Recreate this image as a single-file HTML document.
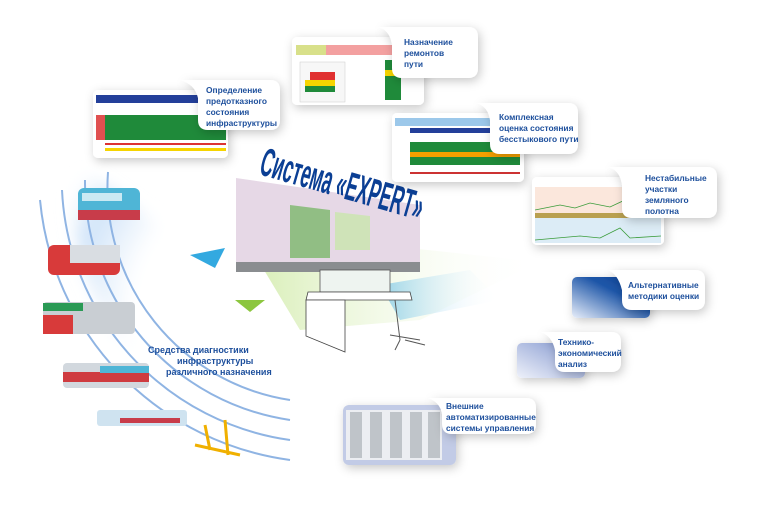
<!DOCTYPE html>
<html><head><meta charset="utf-8"><style>
body{margin:0;width:760px;height:506px;background:#fff;overflow:hidden;font-family:"Liberation Sans",sans-serif}
</style></head><body>
<svg width="760" height="506" viewBox="0 0 760 506" xmlns="http://www.w3.org/2000/svg" font-family="Liberation Sans, sans-serif">
<defs>
<radialGradient id="halo" cx="280" cy="320" r="250" gradientUnits="userSpaceOnUse">
<stop offset="0.6" stop-color="#fff"/><stop offset="0.85" stop-color="#cfe3f8"/><stop offset="1" stop-color="#fff" stop-opacity="0"/></radialGradient>
<linearGradient id="bl" x1="0" y1="1" x2="1" y2="0"><stop offset="0" stop-color="#e8eefa"/><stop offset="0.6" stop-color="#1e56a8"/><stop offset="1" stop-color="#0b3f94"/></linearGradient>
<linearGradient id="bl2" x1="0" y1="1" x2="1" y2="0"><stop offset="0" stop-color="#eef1fa"/><stop offset="1" stop-color="#7d92cc"/></linearGradient>
<linearGradient id="ray" x1="0" y1="0" x2="1" y2="0"><stop offset="0" stop-color="#b8e07a"/><stop offset="1" stop-color="#fff" stop-opacity="0"/></linearGradient>
<linearGradient id="ray2" x1="0" y1="0" x2="1" y2="0"><stop offset="0" stop-color="#59b8e6"/><stop offset="1" stop-color="#fff" stop-opacity="0"/></linearGradient>
<filter id="sh" x="-30%" y="-30%" width="160%" height="160%"><feDropShadow dx="2" dy="3" stdDeviation="5" flood-color="#000" flood-opacity="0.22"/></filter>
<filter id="bl5"><feGaussianBlur stdDeviation="8"/></filter>
</defs>
<path d="M70,160 A290,290 0 0 0 300,460 L300,330 Z" fill="url(#halo)" filter="url(#bl5)"/>
<g fill="none" stroke="#8fb4e3" stroke-width="2">
<path d="M40,200 A290,290 0 0 0 290,460"/>
<path d="M62,190 A265,265 0 0 0 290,440"/>
<path d="M85,180 A240,240 0 0 0 290,420"/>
<path d="M108,172 A215,215 0 0 0 290,400"/>
</g>
<g>
<rect x="78" y="188" width="62" height="32" rx="6" fill="#4fb5d6"/><rect x="78" y="210" width="62" height="10" fill="#c83c4a"/><rect x="82" y="193" width="40" height="8" fill="#fff" opacity=".7"/>
<rect x="48" y="245" width="72" height="30" rx="6" fill="#d83a3a"/><rect x="70" y="245" width="50" height="18" fill="#d9dde2"/>
<rect x="43" y="302" width="92" height="32" rx="4" fill="#c9ced3"/><rect x="43" y="315" width="30" height="19" fill="#d83a3a"/><rect x="43" y="303" width="40" height="8" fill="#2a9a55"/>
<rect x="63" y="363" width="86" height="25" rx="4" fill="#d2d8de"/><rect x="63" y="372" width="86" height="10" fill="#cf3b40"/><rect x="100" y="366" width="49" height="7" fill="#4fb5d6"/>
<rect x="97" y="410" width="90" height="16" rx="3" fill="#cfe3f0"/><rect x="120" y="418" width="60" height="5" fill="#c83c4a"/>
<path d="M195,445 L240,455 M205,425 L210,450 M225,420 L228,455" stroke="#f0b000" stroke-width="3"/>
</g>
<text font-size="9" font-weight="bold" fill="#1d4f9c"><tspan x="148" y="353">Средства диагностики</tspan><tspan x="177" y="364">инфраструктуры</tspan><tspan x="166" y="375">различного назначения</tspan></text>
<polygon points="240,230 540,262 420,320 300,330" fill="url(#ray)" opacity=".6"/>
<polygon points="380,285 470,270 500,300 400,320" fill="url(#ray2)" opacity=".6"/>
<polygon points="190,255 225,248 215,268" fill="#33a9e0"/>
<polygon points="235,300 265,300 250,312" fill="#8cc63f"/>
<polygon points="236,178 420,205 420,262 236,262" fill="#e6d8e6"/>
<polygon points="290,205 330,210 330,258 290,258" fill="#6cb35a" opacity=".7"/>
<polygon points="335,212 370,216 370,250 335,250" fill="#cfe3b8"/>
<rect x="236" y="262" width="184" height="10" fill="#8a8d90"/>
<rect x="320" y="270" width="70" height="22" fill="#eef4f0" stroke="#555" stroke-width="0.8"/>
<polygon points="308,292 410,292 412,300 306,300" fill="#fff" stroke="#444" stroke-width="0.8"/>
<polygon points="306,300 345,300 345,352 306,336" fill="#fff" stroke="#444" stroke-width="0.8"/>
<path d="M395,300 L400,340 M390,335 L420,340 M400,340 L395,350 M405,340 L425,345" stroke="#555" fill="none"/>
<text x="258" y="174" font-size="40" font-weight="bold" fill="#0b3f94" transform="rotate(16 258 174)" textLength="168" lengthAdjust="spacingAndGlyphs">Система «EXPERT»</text>
<g filter="url(#sh)">
<rect x="93" y="90" width="135" height="68" rx="5" fill="#fff"/>
<rect x="292" y="37" width="132" height="68" rx="5" fill="#fff"/>
<rect x="392" y="113" width="132" height="69" rx="5" fill="#fff"/>
<rect x="532" y="177" width="132" height="68" rx="5" fill="#fff"/>
<rect x="572" y="277" width="78" height="41" rx="5" fill="url(#bl)"/>
<rect x="517" y="343" width="68" height="35" rx="5" fill="url(#bl2)"/>
<rect x="343" y="405" width="113" height="60" rx="6" fill="#c2cbe6"/>
</g>
<rect x="96" y="95" width="130" height="8" fill="#233f9a"/><rect x="105" y="115" width="121" height="25" fill="#1f8a3a"/><rect x="96" y="115" width="9" height="25" fill="#e05050"/><rect x="105" y="143" width="121" height="2" fill="#d33"/><rect x="105" y="148" width="121" height="3" fill="#f5d400"/>
<rect x="296" y="45" width="125" height="10" fill="#f3a0a0"/><rect x="296" y="45" width="30" height="10" fill="#d8e08a"/><rect x="300" y="62" width="45" height="40" fill="#f7f7f7" stroke="#ccc" stroke-width=".5"/><rect x="310" y="72" width="25" height="8" fill="#e03030"/><rect x="305" y="80" width="30" height="6" fill="#f5d400"/><rect x="305" y="86" width="30" height="6" fill="#1f8a3a"/><rect x="385" y="60" width="16" height="40" fill="#1f8a3a"/><rect x="385" y="70" width="16" height="6" fill="#f5d400"/>
<rect x="395" y="118" width="126" height="8" fill="#9cc8ea"/><rect x="410" y="128" width="110" height="5" fill="#233f9a"/><rect x="410" y="142" width="110" height="10" fill="#1f8a3a"/><rect x="410" y="152" width="110" height="5" fill="#f5a000"/><rect x="410" y="157" width="110" height="8" fill="#1f8a3a"/><rect x="410" y="172" width="110" height="2" fill="#c33"/>
<rect x="535" y="187" width="126" height="26" fill="#fbe7dc"/><rect x="535" y="213" width="126" height="5" fill="#b9a050"/><rect x="535" y="218" width="126" height="25" fill="#dcecf6"/><path d="M535,210 L560,205 575,208 590,203 610,207 625,200 640,210 661,208 M535,240 L580,236 600,238 620,228 630,238 661,236" stroke="#3a9c3a" stroke-width=".8" fill="none"/>
<rect x="346" y="410" width="96" height="50" fill="#eceef2"/>
<g fill="#bfc4c9"><rect x="350" y="412" width="12" height="46"/><rect x="370" y="412" width="12" height="46"/><rect x="390" y="412" width="12" height="46"/><rect x="410" y="412" width="12" height="46"/><rect x="428" y="412" width="12" height="46"/></g>
<g filter="url(#sh)" fill="#fff">
<path d="M180,80 L270,80 Q280,80 280,90 L280,120 Q280,130 270,130 L208,130 Q198,130 198,120 L198,98 Q195,84 180,80 Z"/>
<path d="M378,27 L468,27 Q478,27 478,37 L478,68 Q478,78 468,78 L402,78 Q392,78 392,68 L392,45 Q390,30 378,27 Z"/>
<path d="M476,103 L568,103 Q578,103 578,113 L578,144 Q578,154 568,154 L500,154 Q490,154 490,144 L490,120 Q488,106 476,103 Z"/>
<path d="M608,167 L707,167 Q717,167 717,177 L717,208 Q717,218 707,218 L632,218 Q622,218 622,208 L622,185 Q620,170 608,167 Z"/>
<path d="M608,270 L695,270 Q705,270 705,280 L705,300 Q705,310 695,310 L632,310 Q622,310 622,300 L622,290 Q618,274 608,270 Z"/>
<path d="M541,332 L611,332 Q621,332 621,342 L621,362 Q621,372 611,372 L565,372 Q555,372 555,362 L555,350 Q552,336 541,332 Z"/>
<path d="M428,398 L526,398 Q536,398 536,408 L536,424 Q536,434 526,434 L452,434 Q442,434 442,424 L442,414 Q440,402 428,398 Z"/>
</g>
<g font-size="8.4" font-weight="bold" fill="#1d4f9c">
<text><tspan x="206" y="93">Определение</tspan><tspan x="206" y="104">предотказного</tspan><tspan x="206" y="115">состояния</tspan><tspan x="206" y="126">инфраструктуры</tspan></text>
<text><tspan x="404" y="45">Назначение</tspan><tspan x="404" y="56">ремонтов</tspan><tspan x="404" y="67">пути</tspan></text>
<text><tspan x="499" y="120">Комплексная</tspan><tspan x="499" y="131">оценка состояния</tspan><tspan x="499" y="142">бесстыкового пути</tspan></text>
<text><tspan x="645" y="181">Нестабильные</tspan><tspan x="645" y="192">участки</tspan><tspan x="645" y="203">земляного</tspan><tspan x="645" y="214">полотна</tspan></text>
<text><tspan x="628" y="288">Альтернативные</tspan><tspan x="628" y="299">методики оценки</tspan></text>
<text><tspan x="558" y="345">Технико-</tspan><tspan x="558" y="356">экономический</tspan><tspan x="558" y="367">анализ</tspan></text>
<text><tspan x="446" y="409">Внешние</tspan><tspan x="446" y="420">автоматизированные</tspan><tspan x="446" y="431">системы управления</tspan></text>
</g>
</svg>
</body></html>
